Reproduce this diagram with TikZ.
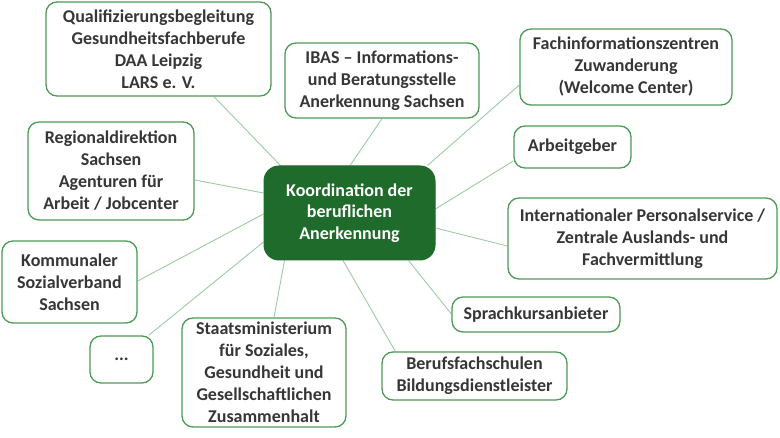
\documentclass[tikz,border=0pt]{standalone}
\usepackage{fontspec}
\setmainfont{Carlito}
\usetikzlibrary{calc,backgrounds}
\definecolor{bordergreen}{HTML}{4E9A57}
\definecolor{darkgreen}{HTML}{1F6B2B}
\definecolor{linegreen}{HTML}{9CCBA3}
\definecolor{txt}{HTML}{363636}
\begin{document}
\begin{tikzpicture}[x=1pt,y=-1pt,
  box/.style={draw=bordergreen, line width=1.3pt, rounded corners=11pt, fill=white,
    text=txt, font=\fontsize{18}{22}\selectfont\bfseries, align=center, inner sep=0pt},
  hub/.style={fill=darkgreen, draw=darkgreen, line width=1pt, rounded corners=15pt,
    text=white, font=\fontsize{18}{21.5}\selectfont\bfseries, align=center, inner sep=0pt},
  link/.style={draw=linegreen, line width=0.9pt}]
\useasboundingbox (0,0) rectangle (780,438);

\node[hub, minimum width=171pt, minimum height=94pt] (c) at (349.5,213) {Koordination der\\beruflichen\\Anerkennung};

\node[box, minimum width=225pt, minimum height=94pt] (q) at (158.5,49) {Qualifizierungsbegleitung\\Gesundheitsfachberufe\\DAA Leipzig\\LARS e. V.};
\node[box, minimum width=194pt, minimum height=75pt] (ibas) at (382,80.5) {IBAS -- Informations-\\und Beratungsstelle\\Anerkennung Sachsen};
\node[box, minimum width=212pt, minimum height=76pt] (fach) at (626,67) {Fachinformationszentren\\Zuwanderung\\(Welcome Center)};
\node[box, minimum width=117pt, minimum height=42pt] (arb) at (572.5,147) {Arbeitgeber};
\node[box, minimum width=269pt, minimum height=81pt] (int) at (642.5,238.5) {Internationaler Personalservice /\\Zentrale Auslands- und\\Fachvermittlung};
\node[box, minimum width=168pt, minimum height=35pt] (sprach) at (536,314.5) {Sprachkursanbieter};
\node[box, minimum width=185pt, minimum height=48pt] (beruf) at (474.5,376) {Berufsfachschulen\\Bildungsdienstleister};
\node[box, minimum width=164pt, minimum height=109pt] (staat) at (264,372.5) {Staatsministerium\\für Soziales,\\Gesundheit und\\Gesellschaftlichen\\Zusammenhalt};
\node[box, minimum width=63pt, minimum height=47pt] (dots) at (121.5,359.5) {...};
\node[box, minimum width=135pt, minimum height=82pt] (komm) at (69.5,282) {Kommunaler\\Sozialverband\\Sachsen};
\node[box, minimum width=166pt, minimum height=98pt] (reg) at (111,171) {Regionaldirektion\\Sachsen\\Agenturen für\\Arbeit / Jobcenter};

\begin{scope}[on background layer]
\draw[link] ($(q.south)+(55.5,0)$) -- ($(c.north west)+(17,0)$);
\draw[link] ($(reg.east)+(0,9)$) -- ($(c.west)+(0,-20)$);
\draw[link] (ibas.south) -- ($(c.north)+(0.5,0)$);
\draw[link] ($(fach.west)+(0,18)$) -- ($(c.north east)+(-8,0)$);
\draw[link] ($(arb.west)+(0,14)$) -- ($(c.east)+(0,-4)$);
\draw[link] ($(int.west)+(0,7.5)$) -- ($(c.east)+(0,15)$);
\draw[link] ($(sprach.west)+(0,-0.5)$) -- ($(c.south east)+(-27,0)$);
\draw[link] ($(beruf.north west)+(14,0)$) -- ($(c.south)+(-6.5,0)$);
\draw[link] ($(staat.north)+(10,0)$) -- ($(c.south west)+(21,0)$);
\draw[link] ($(dots.north east)+(-5,0)$) -- ($(c.west)+(0,29)$);
\draw[link] ($(komm.east)+(0,-1)$) -- ($(c.west)+(0,1)$);
\end{scope}
\end{tikzpicture}
\end{document}
